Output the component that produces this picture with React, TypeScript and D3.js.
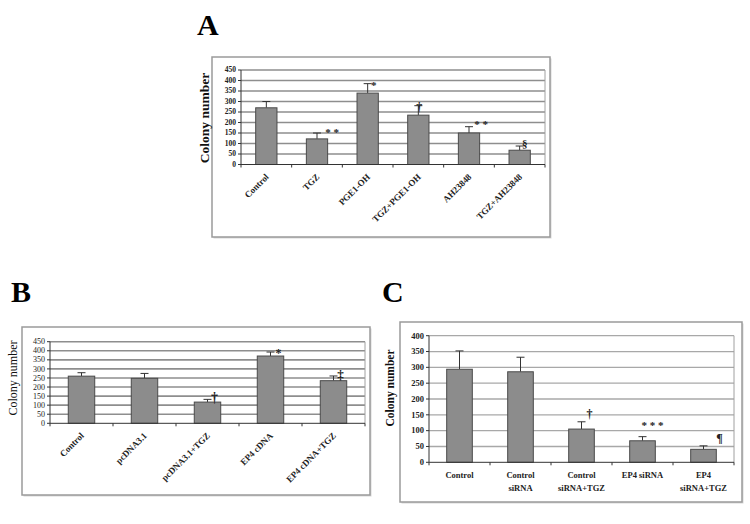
import React from "react";
import * as d3 from "d3";

// ---------- Data ----------
const catsA = ["Control", "TGZ", "PGE1-OH", "TGZ+PGE1-OH", "AH23848", "TGZ+AH23848"];
const meansA = [270, 122, 340, 235, 150, 68];
const errTopA = [300, 150, 385, 280, 180, 88];
const marksA = ["", "* *", "*", "†", "* *", "§"];
const ticksA = [0, 50, 100, 150, 200, 250, 300, 350, 400, 450];

const catsB = ["Control", "pcDNA3.1", "pcDNA3.1+TGZ", "EP4 cDNA", "EP4 cDNA+TGZ"];
const meansB = [260, 248, 117, 371, 235];
const errTopB = [279, 275, 132, 393, 261];
const marksB = ["", "", "†", "*", "‡"];
const ticksB = [0, 50, 100, 150, 200, 250, 300, 350, 400, 450];

const catsC = ["Control", "Control\nsiRNA", "Control\nsiRNA+TGZ", "EP4 siRNA", "EP4\nsiRNA+TGZ"];
const meansC = [294, 286, 105, 68, 41];
const errTopC = [352, 332, 128, 81, 52];
const marksC = ["", "", "†", "* * *", "¶"];
const ticksC = [0, 50, 100, 150, 200, 250, 300, 350, 400];

const FONT = "'Liberation Serif', 'DejaVu Serif', serif";

type Panel = {
  letter: string;
  letterX: number;
  letterY: number;
  frame: [number, number, number, number];
  plot: [number, number, number, number]; // x0, x1, yTop, yBottom
  cats: string[];
  means: number[];
  errTop: number[];
  marks: string[];
  ticks: number[];
  yMax: number;
  yLabelX: number;
  yLabelY: number;
  yLabelSize: number;
  yLabelWeight: string;
  tickSize: number;
  tickWeight: string;
  xLabelSize: number;
  xLabelWeight: string;
  xLabelOff: number;
  rotated: boolean;
  markDx: number[];
  markDy: number[];
  markSize: number[];
  gridColor: string;
  gridWidth: number;
};

const panels: Panel[] = [
  {
    letter: "A", letterX: 197, letterY: 35,
    frame: [212, 57, 550, 237],
    plot: [241, 545, 70, 164.5],
    cats: catsA, means: meansA, errTop: errTopA, marks: marksA, ticks: ticksA, yMax: 450,
    yLabelX: 209, yLabelY: 118, yLabelSize: 13.5, yLabelWeight: "bold",
    tickSize: 7.5, tickWeight: "bold", xLabelSize: 9, xLabelWeight: "bold", xLabelOff: 13, rotated: true,
    markDx: [0, 15, 6, 1, 12, 5], markDy: [0, 3, 5, 5, 1, 1], markSize: [10, 11, 11, 12, 11, 11],
    gridColor: "#8e8e8e", gridWidth: 1.6,
  },
  {
    letter: "B", letterX: 11, letterY: 302,
    frame: [22, 327, 370, 495],
    plot: [50, 365, 341.7, 423.3],
    cats: catsB, means: meansB, errTop: errTopB, marks: marksB, ticks: ticksB, yMax: 450,
    yLabelX: 17, yLabelY: 378, yLabelSize: 12, yLabelWeight: "normal",
    tickSize: 8, tickWeight: "normal", xLabelSize: 9, xLabelWeight: "bold", xLabelOff: 13, rotated: true,
    markDx: [0, 0, 7, 8, 7], markDy: [0, 0, 3, 5, 3], markSize: [10, 10, 14, 12, 13],
    gridColor: "#8e8e8e", gridWidth: 1.6,
  },
  {
    letter: "C", letterX: 382, letterY: 302,
    frame: [400, 322, 742, 502],
    plot: [429, 734, 335.7, 462.3],
    cats: catsC, means: meansC, errTop: errTopC, marks: marksC, ticks: ticksC, yMax: 400,
    yLabelX: 394, yLabelY: 388, yLabelSize: 11.5, yLabelWeight: "bold",
    tickSize: 8.5, tickWeight: "bold", xLabelSize: 8.5, xLabelWeight: "bold", xLabelOff: 16, rotated: false,
    markDx: [0, 0, 8, 10, 16], markDy: [0, 0, -4, -8, -4], markSize: [10, 10, 12, 11, 12],
    gridColor: "#a8a8a8", gridWidth: 1.3,
  },
];

function PanelView({ p }: { p: Panel }) {
  const [x0, x1, yT, yB] = p.plot;
  const x = d3.scaleBand<string>().domain(p.cats).range([x0, x1]).paddingInner(0.58).paddingOuter(0.29);
  const y = d3.scaleLinear().domain([0, p.yMax]).range([yB, yT]);
  const step = x.step();
  const bw = x.bandwidth();
  const [fx0, fy0, fx1, fy1] = p.frame;
  return (
    <g fontFamily={FONT}>
      <text x={p.letterX} y={p.letterY} fontSize={30} fontWeight="bold" fill="#000">{p.letter}</text>
      <rect x={fx0 + 1.5} y={fy0 + 1.5} width={fx1 - fx0} height={fy1 - fy0} fill="#d8d8d8" />
      <rect x={fx0} y={fy0} width={fx1 - fx0} height={fy1 - fy0} fill="#fff" stroke="#9a9a9a" strokeWidth={1.5} />
      {p.ticks.filter((t) => t > 0).map((t) => (
        <line key={"g" + t} x1={x0} x2={x1} y1={y(t)} y2={y(t)} stroke={p.gridColor} strokeWidth={p.gridWidth} />
      ))}
      <line x1={x1} x2={x1} y1={yT} y2={yB} stroke="#a0a0a0" strokeWidth={1} />
      {p.cats.map((c, i) => {
        const bx = x(c)!;
        const cx = bx + bw / 2;
        return (
          <g key={"b" + i}>
            <line x1={cx} x2={cx} y1={y(p.means[i])} y2={y(p.errTop[i])} stroke="#333" strokeWidth={1} />
            <line x1={cx - 4} x2={cx + 4} y1={y(p.errTop[i])} y2={y(p.errTop[i])} stroke="#333" strokeWidth={1} />
            <rect x={bx} y={y(p.means[i])} width={bw} height={yB - y(p.means[i])} fill="#8c8c8c" stroke="#4a4a4a" strokeWidth={1} />
            {p.marks[i] ? (
              <text x={cx + p.markDx[i]} y={y(p.errTop[i]) + p.markDy[i]} fontSize={p.markSize[i]} fontWeight="bold" textAnchor="middle" fill="#222">
                {p.marks[i]}
              </text>
            ) : null}
          </g>
        );
      })}
      <line x1={x0} x2={x0} y1={yT} y2={yB} stroke="#333" strokeWidth={1} />
      <line x1={x0} x2={x1} y1={yB} y2={yB} stroke="#333" strokeWidth={1} />
      {p.ticks.map((t) => (
        <g key={"t" + t}>
          <line x1={x0 - 3} x2={x0} y1={y(t)} y2={y(t)} stroke="#333" strokeWidth={1} />
          <text x={x0 - 5} y={y(t)} dy="0.33em" fontSize={p.tickSize} fontWeight={p.tickWeight} textAnchor="end" fill="#222">{t}</text>
        </g>
      ))}
      {d3.range(p.cats.length + 1).map((i) => (
        <line key={"xt" + i} x1={x0 + i * step} x2={x0 + i * step} y1={yB} y2={yB + 3} stroke="#333" strokeWidth={1} />
      ))}
      {p.cats.map((c, i) => {
        const cx = x(c)! + bw / 2;
        if (p.rotated) {
          return (
            <text key={"xl" + i} transform={`translate(${cx + 3},${yB + p.xLabelOff}) rotate(-45)`} fontSize={p.xLabelSize} fontWeight={p.xLabelWeight} textAnchor="end" fill="#222">
              {c}
            </text>
          );
        }
        const lines = c.split("\n");
        return (
          <text key={"xl" + i} x={cx} y={yB + p.xLabelOff} fontSize={p.xLabelSize} fontWeight={p.xLabelWeight} textAnchor="middle" fill="#222">
            {lines.map((l, j) => (
              <tspan key={j} x={cx} dy={j === 0 ? 0 : 13}>{l}</tspan>
            ))}
          </text>
        );
      })}
      <text transform={`translate(${p.yLabelX},${p.yLabelY}) rotate(-90)`} fontSize={p.yLabelSize} fontWeight={p.yLabelWeight} textAnchor="middle" fill="#111">
        Colony number
      </text>
    </g>
  );
}

export default function App() {
  return (
    <svg width={750} height={524} style={{ position: "absolute", left: 0, top: 0, background: "#fff" }}>
      <rect x={0} y={0} width={750} height={524} fill="#fff" />
      {panels.map((p) => (
        <PanelView key={p.letter} p={p} />
      ))}
    </svg>
  );
}
